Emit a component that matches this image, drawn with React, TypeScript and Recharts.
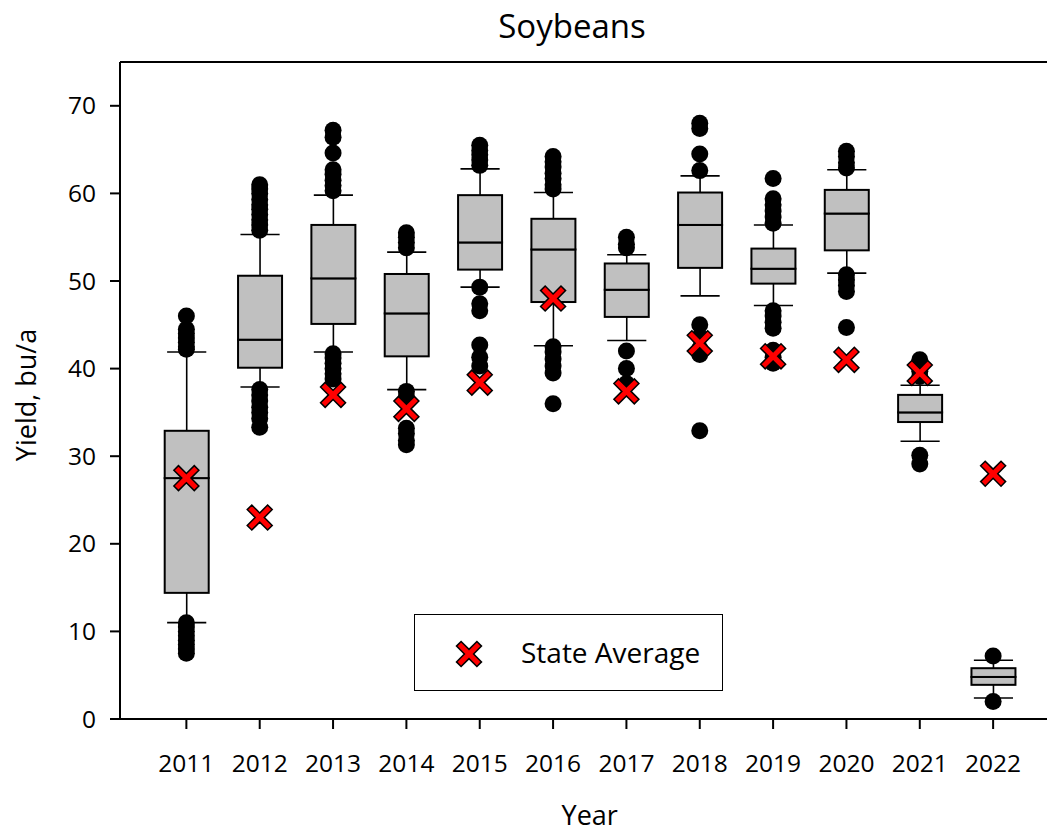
import React from 'react';
import {
	Bar,
	ComposedChart,
	Label,
	Legend,
	ReferenceLine,
	Scatter,
	XAxis,
	YAxis,
} from 'recharts';

const years = [2011, 2012, 2013, 2014, 2015, 2016, 2017, 2018, 2019, 2020, 2021, 2022];
const whiskerLow = [11.0, 37.9, 41.9, 37.6, 49.3, 42.6, 43.2, 48.3, 47.2, 50.9, 31.7, 2.4];
const q1 = [14.4, 40.1, 45.1, 41.4, 51.3, 47.6, 45.9, 51.5, 49.7, 53.5, 33.9, 3.9];
const median = [27.5, 43.3, 50.3, 46.3, 54.4, 53.6, 49.0, 56.4, 51.4, 57.7, 35.0, 4.8];
const q3 = [32.9, 50.6, 56.4, 50.8, 59.8, 57.1, 52.0, 60.1, 53.7, 60.4, 37.0, 5.8];
const whiskerHigh = [41.9, 55.3, 59.8, 53.3, 62.8, 60.1, 53.0, 62.0, 56.4, 62.7, 38.1, 6.7];
const stateAverage = [27.5, 23.0, 37.0, 35.4, 38.4, 48.0, 37.4, 42.9, 41.4, 41.0, 39.5, 28.0];
const outliers = [
	[46.0, 44.5, 44.0, 43.5, 43.0, 42.5, 42.2, 11.0, 10.5, 10.0, 9.5, 9.0, 8.5, 8.0, 7.5],
	[61.0, 60.5, 60.0, 59.3, 58.7, 58.2, 57.6, 57.0, 56.4, 55.8, 37.6, 37.0, 36.3, 35.6, 35.0, 34.3, 33.3],
	[67.2, 66.4, 64.6, 62.7, 62.2, 61.5, 60.9, 60.3, 41.7, 41.2, 40.6, 40.0, 39.4, 38.8],
	[55.5, 55.0, 54.4, 53.8, 37.4, 36.8, 33.2, 32.6, 31.8, 31.3],
	[65.5, 64.9, 64.4, 63.8, 63.2, 49.3, 47.4, 46.6, 42.7, 41.3, 40.3],
	[64.2, 63.6, 63.0, 62.3, 61.7, 61.0, 60.5, 42.5, 41.9, 41.1, 40.3, 39.5, 36.0],
	[55.0, 54.2, 53.8, 42.0, 40.0, 38.3],
	[68.0, 67.4, 64.5, 62.6, 45.0, 43.6, 42.3, 41.6, 32.9],
	[61.7, 59.4, 58.7, 58.0, 57.3, 56.6, 46.6, 46.0, 45.3, 44.6, 42.1, 41.3, 40.6],
	[64.8, 64.2, 63.5, 62.9, 50.7, 50.1, 49.5, 48.8, 44.7],
	[41.0, 40.4, 39.7, 39.1, 30.1, 29.1],
	[7.2, 2.0],
];
const yTicks = [0, 10, 20, 30, 40, 50, 60, 70];

const boxData = years.map((year, i) => ({
	year,
	base: whiskerLow[i],
	lowerWhisker: q1[i] - whiskerLow[i],
	lowerBox: median[i] - q1[i],
	upperBox: q3[i] - median[i],
	upperWhisker: whiskerHigh[i] - q3[i],
}));

const outlierData = years.flatMap((year, i) =>
	outliers[i].map((value) => ({ year, value }))
);
const averageData = years.map((year, i) => ({ year, value: stateAverage[i] }));

const FONT = '"Open Sans", sans-serif';

const LowerWhisker = (props: any) => {
	const { x, y, width, height } = props;
	const cx = x + width / 2;
	const half = width * 0.445;
	return (
		<g>
			<line x1={cx} x2={cx} y1={y} y2={y + height} stroke="#000" strokeWidth={1.6} />
			<line x1={cx - half} x2={cx + half} y1={y + height} y2={y + height} stroke="#000" strokeWidth={1.6} />
		</g>
	);
};

const UpperWhisker = (props: any) => {
	const { x, y, width, height } = props;
	const cx = x + width / 2;
	const half = width * 0.445;
	return (
		<g>
			<line x1={cx} x2={cx} y1={y} y2={y + height} stroke="#000" strokeWidth={1.6} />
			<line x1={cx - half} x2={cx + half} y1={y} y2={y} stroke="#000" strokeWidth={1.6} />
		</g>
	);
};

const BoxHalf = (props: any) => {
	const { x, y, width, height } = props;
	return <rect x={x} y={y} width={width} height={height} fill="#c0c0c0" stroke="#000" strokeWidth={2} />;
};

const OutlierDot = (props: any) => <circle cx={props.cx} cy={props.cy} r={8.5} fill="#000" />;

const crossPoints = (cx: number, cy: number) => {
	const s = 12.5;
	const e = 4.6;
	const pts = [
		[0, -e], [s - e, -s], [s, -s + e], [e, 0], [s, s - e], [s - e, s],
		[0, e], [-s + e, s], [-s, s - e], [-e, 0], [-s, -s + e], [-s + e, -s],
	];
	return pts.map(([dx, dy]) => `${cx + dx},${cy + dy}`).join(' ');
};

const AverageMark = (props: any) => (
	<polygon points={crossPoints(props.cx, props.cy)} fill="#ff0000" stroke="#000" strokeWidth={1.5} />
);

const LegendBox = () => (
	<div
		style={{
			boxSizing: 'border-box',
			width: 309,
			height: 77,
			border: '1.5px solid #000',
			background: '#fff',
			position: 'relative',
		}}
	>
		<svg width={40} height={40} style={{ position: 'absolute', left: 34, top: 19 }}>
			<polygon points={crossPoints(20, 20)} fill="#ff0000" stroke="#000" strokeWidth={1.5} />
		</svg>
		<span
			style={{
				position: 'absolute',
				left: 106,
				top: 0,
				lineHeight: '75px',
				fontFamily: FONT,
				fontSize: 28,
				color: '#000',
				whiteSpace: 'nowrap',
			}}
		>
			State Average
		</span>
	</div>
);

const App = () => {
	return (
		<div style={{ position: 'fixed', left: 0, top: 0, width: 1047, height: 833, overflow: 'hidden', background: '#fff' }}>
			<div
				style={{
					position: 'absolute',
					left: 372,
					width: 400,
					top: 6,
					textAlign: 'center',
					fontFamily: FONT,
					fontSize: 33,
					lineHeight: '40px',
					color: '#000',
				}}
			>
				Soybeans
			</div>
			<ComposedChart
				width={1080}
				height={833}
				data={boxData}
				margin={{ top: 62, right: 20.5, left: 0, bottom: 0 }}
				style={{ fontFamily: FONT }}
			>
				<XAxis
					type="number"
					dataKey="year"
					domain={[2010.095, 2022.905]}
					allowDataOverflow
					ticks={years}
					interval={0}
					height={114}
					tickSize={10}
					tickMargin={26}
					axisLine={{ stroke: '#000', strokeWidth: 2 }}
					tickLine={{ stroke: '#000', strokeWidth: 2 }}
					tick={{ fill: '#000', fontSize: 24.5 }}
				>
					<Label value="Year" position="insideBottom" offset={8} style={{ fontSize: 27, fill: '#000' }} />
				</XAxis>
				<YAxis
					type="number"
					domain={[0, 75]}
					allowDataOverflow
					ticks={yTicks}
					width={120}
					tickSize={10}
					tickMargin={14}
					axisLine={{ stroke: '#000', strokeWidth: 2 }}
					tickLine={{ stroke: '#000', strokeWidth: 2 }}
					tick={{ fill: '#000', fontSize: 24.5 }}
				>
					<Label
						content={() => (
							<text
								x={25}
								y={395}
								transform="rotate(-90, 25, 395)"
								textAnchor="middle"
								dominantBaseline="central"
								style={{ fontSize: 27, fill: '#000', fontFamily: FONT }}
							>
								Yield, bu/a
							</text>
						)}
					/>
				</YAxis>
				<ReferenceLine y={75} stroke="#000" strokeWidth={2} ifOverflow="visible" />
				<Bar dataKey="base" stackId="box" barSize={44} fill="none" shape={() => null} isAnimationActive={false} />
				<Bar dataKey="lowerWhisker" stackId="box" barSize={44} shape={LowerWhisker} isAnimationActive={false} />
				<Bar dataKey="lowerBox" stackId="box" barSize={44} shape={BoxHalf} isAnimationActive={false} />
				<Bar dataKey="upperBox" stackId="box" barSize={44} shape={BoxHalf} isAnimationActive={false} />
				<Bar dataKey="upperWhisker" stackId="box" barSize={44} shape={UpperWhisker} isAnimationActive={false} />
				<Scatter data={outlierData} dataKey="value" shape={OutlierDot} isAnimationActive={false} legendType="none" />
				<Scatter data={averageData} dataKey="value" name="State Average" shape={AverageMark} isAnimationActive={false} />
				<Legend
					layout="horizontal"
					verticalAlign="middle"
					align="center"
					content={() => <LegendBox />}
					wrapperStyle={{ position: 'absolute', left: 414, top: 614, width: 309, height: 77, bottom: 'auto', right: 'auto' }}
				/>
			</ComposedChart>
		</div>
	);
};

export default App;
